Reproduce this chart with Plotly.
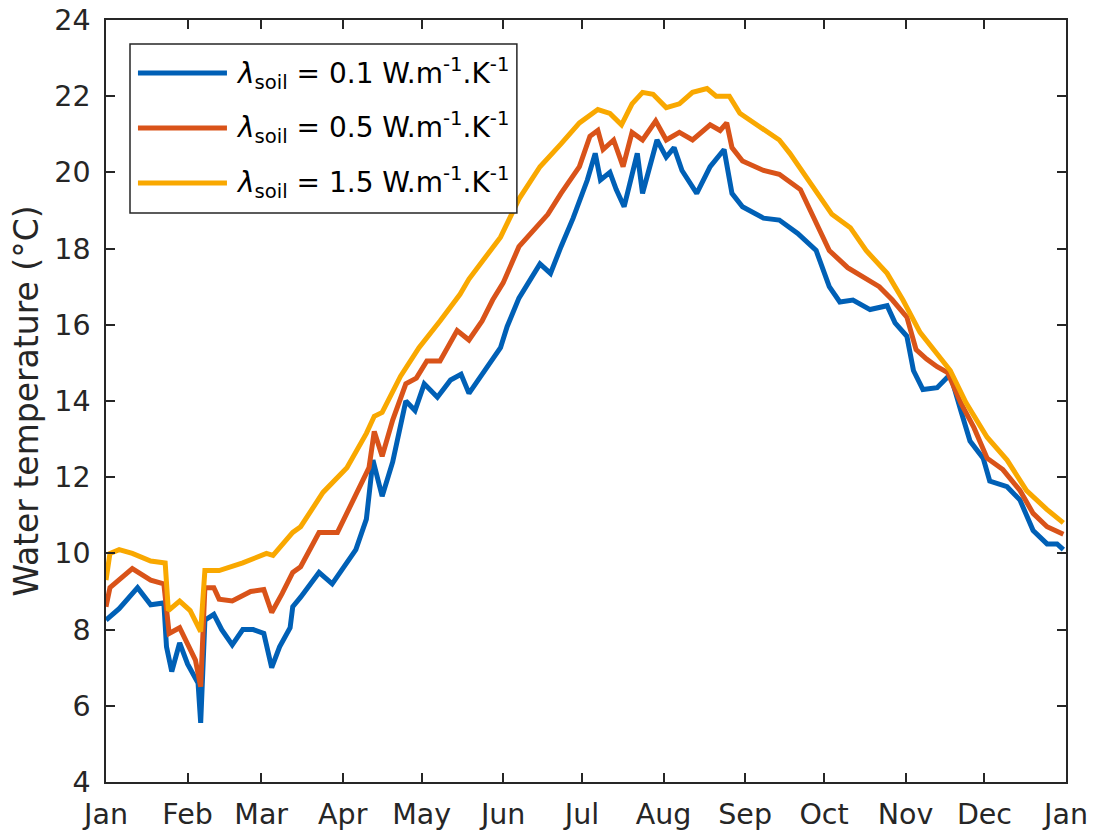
import pandas as pd
import plotly.graph_objects as go

# ---- data (day of year, water temperature in °C) ----
days_01 = [0, 5, 12, 17, 22, 23, 25, 28, 31, 34, 35, 36, 37, 37.6, 41, 44, 48, 52, 56, 60, 63, 66, 70, 71, 74,
           81, 86, 95, 99, 101.5, 105, 109, 114, 117.5, 121, 126, 131, 135, 138, 145, 150, 152.5, 157,
           165, 169, 173, 177.6, 183, 186, 188, 191.6, 194, 197, 202, 204, 209.5, 213, 216, 219, 224.6,
           229.7, 235, 238, 242, 250, 256, 263, 270, 275, 279, 284, 290.5, 297, 300, 304.5, 307, 310.6,
           316, 321, 325, 328.5, 333.5, 336, 342.6, 347.5, 352.5, 357.8, 361.6, 364]
temp_01 = [8.25, 8.55, 9.1, 8.65, 8.7, 7.55, 6.9, 7.65, 7.1, 6.75, 6.6, 5.55, 7.0, 8.25, 8.4, 8.0, 7.6, 8.0, 8.0, 7.9, 7.0, 7.55, 8.05, 8.6, 8.85,
           9.5, 9.2, 10.1, 10.9, 12.45, 11.5, 12.4, 14.0, 13.75, 14.45, 14.1, 14.55, 14.7, 14.2, 14.9, 15.4, 15.95, 16.7,
           17.6, 17.35, 18.05, 18.8, 19.8, 20.5, 19.8, 20.0, 19.55, 19.1, 20.5, 19.45, 20.85, 20.4, 20.65, 20.05, 19.45,
           20.15, 20.6, 19.45, 19.1, 18.8, 18.75, 18.4, 17.95, 17.0, 16.6, 16.65, 16.4, 16.5, 16.05, 15.7, 14.8, 14.3,
           14.35, 14.7, 13.75, 12.95, 12.5, 11.9, 11.75, 11.4, 10.6, 10.25, 10.25, 10.1]

days_05 = [0, 1.5, 10, 17, 22, 24, 28, 31, 34, 36, 37.6, 41, 43, 48, 55, 60, 63, 67, 71, 74,
           81, 88, 95, 100, 102, 105, 109, 114, 118, 122, 127, 133.5, 138, 143, 147, 151, 157,
           168, 173, 180, 184, 187, 189, 193, 196.6, 200, 204, 209, 213, 218, 223, 229.7, 233.5, 236,
           238, 242, 250, 256, 264, 270, 275, 282, 288, 294, 299, 304.5, 308, 312, 316, 320, 325,
           330, 335, 341, 347.5, 352.5, 357.8, 364]
temp_05 = [8.6, 9.1, 9.6, 9.3, 9.2, 7.9, 8.05, 7.65, 7.2, 6.5, 9.1, 9.1, 8.8, 8.75, 9.0, 9.05, 8.45, 8.95, 9.5, 9.65,
           10.55, 10.55, 11.5, 12.25, 13.2, 12.55, 13.5, 14.45, 14.6, 15.05, 15.05, 15.85, 15.6, 16.1, 16.65, 17.1, 18.05,
           18.9, 19.45, 20.15, 20.95, 21.1, 20.6, 20.85, 20.15, 21.05, 20.85, 21.35, 20.85, 21.05, 20.85, 21.25, 21.1, 21.3,
           20.65, 20.3, 20.05, 19.95, 19.55, 18.7, 17.95, 17.5, 17.25, 17.0, 16.65, 16.2, 15.35, 15.1, 14.9, 14.75, 13.95,
           13.3, 12.5, 12.2, 11.65, 11.05, 10.7, 10.5]

days_15 = [0, 1.5, 5, 10, 17, 22.5, 23.7, 28, 32, 36, 37.6, 43, 52, 61, 63.5, 67, 71, 74,
           82.5, 91.6, 99, 102, 105, 112, 119, 127, 134.6, 138, 150, 157, 165, 173, 180, 187,
           191.6, 196, 200, 204, 208, 213, 218, 223, 228.5, 232, 237, 241, 248.7, 256, 260, 269,
           276, 283, 289, 297, 303, 309.5, 316, 321, 327, 335, 342.6, 350, 357.8, 364]
temp_15 = [9.3, 10.0, 10.1, 10.0, 9.8, 9.75, 8.5, 8.75, 8.5, 7.95, 9.55, 9.55, 9.75, 10.0, 9.95, 10.25, 10.55, 10.7,
           11.6, 12.25, 13.15, 13.6, 13.7, 14.65, 15.4, 16.1, 16.8, 17.2, 18.3, 19.3, 20.15, 20.75, 21.3, 21.65,
           21.55, 21.25, 21.8, 22.1, 22.05, 21.7, 21.8, 22.1, 22.2, 22.0, 22.0, 21.55, 21.2, 20.85, 20.5, 19.6,
           18.9, 18.55, 17.95, 17.35, 16.65, 15.8, 15.25, 14.8, 13.95, 13.05, 12.45, 11.65, 11.15, 10.8]

series_names = [
    "<i>λ</i><sub>soil</sub> = 0.1 W.m<sup>-1</sup>.K<sup>-1</sup>",
    "<i>λ</i><sub>soil</sub> = 0.5 W.m<sup>-1</sup>.K<sup>-1</sup>",
    "<i>λ</i><sub>soil</sub> = 1.5 W.m<sup>-1</sup>.K<sup>-1</sup>",
]
series_colors = ["#0060B6", "#D95319", "#F9A800"]

start = pd.Timestamp("2015-01-01")


def to_dates(days):
    return start + pd.to_timedelta(days, unit="D")


fig = go.Figure()
for d, t, name, col in zip([days_01, days_05, days_15], [temp_01, temp_05, temp_15],
                           series_names, series_colors):
    fig.add_trace(go.Scatter(x=to_dates(d), y=t, mode="lines", name=name,
                             line=dict(color=col, width=5), showlegend=False))

axis_col = "#262626"
font_fam = "DejaVu Sans"

# ---- legend box drawn in plot-area (paper) coordinates ----
leg_x0, leg_x1, leg_y0, leg_y1 = 0.025, 0.428, 0.7467, 0.9685
leg_line_x0, leg_line_x1, leg_text_x = 0.0333, 0.126, 0.1330
leg_rows = [0.9304, 0.8583, 0.7861]

shapes = [dict(type="rect", xref="paper", yref="paper", x0=leg_x0, x1=leg_x1, y0=leg_y0, y1=leg_y1,
               line=dict(color=axis_col, width=1.5), fillcolor="white", layer="above")]
annotations = []
for yy, name, col in zip(leg_rows, series_names, series_colors):
    shapes.append(dict(type="line", xref="paper", yref="paper", x0=leg_line_x0, x1=leg_line_x1,
                       y0=yy, y1=yy, line=dict(color=col, width=5), layer="above"))
    annotations.append(dict(xref="paper", yref="paper", x=leg_text_x, y=yy, text=name,
                            showarrow=False, xanchor="left", yanchor="middle",
                            font=dict(family=font_fam, size=28, color="#000000")))

fig.update_layout(
    width=1097, height=831,
    margin=dict(l=106, r=31, t=20, b=49),
    paper_bgcolor="white", plot_bgcolor="white",
    font=dict(family=font_fam, size=28, color=axis_col),
    showlegend=False,
    shapes=shapes,
    annotations=annotations,
)
fig.update_xaxes(
    type="date", range=["2015-01-01", "2016-01-01"],
    dtick="M1", tick0="2015-01-01", tickformat="%b",
    ticks="inside", ticklen=9, tickwidth=1.5, tickcolor=axis_col,
    showline=True, linecolor=axis_col, linewidth=1.5, mirror="allticks",
    showgrid=False, zeroline=False, ticklabelstandoff=6, automargin=False,
    tickfont=dict(size=28.5),
)
fig.update_yaxes(
    range=[4, 24], dtick=2, tick0=4,
    ticks="inside", ticklen=9, tickwidth=1.5, tickcolor=axis_col,
    showline=True, linecolor=axis_col, linewidth=1.5, mirror="allticks",
    showgrid=False, zeroline=False, ticklabelstandoff=8, automargin=False,
    tickfont=dict(size=28.5),
    title=dict(text="Water temperature (°C)", font=dict(size=33, color=axis_col), standoff=6),
)

fig.write_html("out.html", config={"displayModeBar": False},
               post_script="document.body.style.margin='0';")
